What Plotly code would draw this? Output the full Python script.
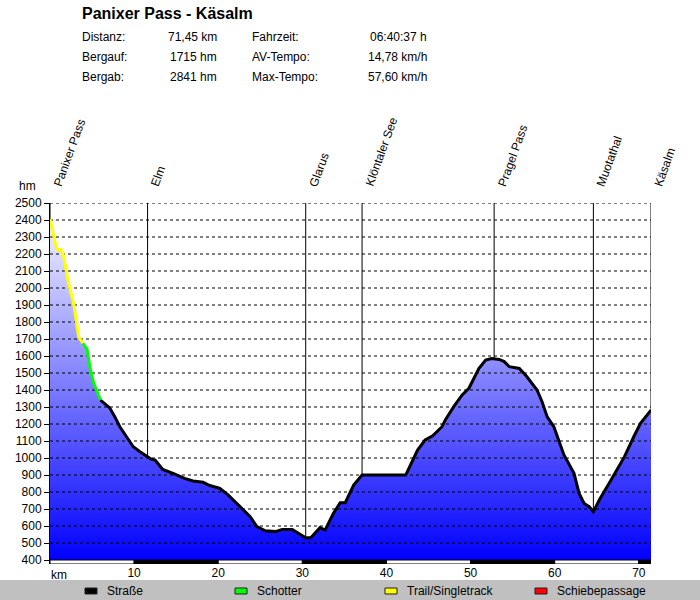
import plotly.graph_objects as go

# ---------------- data ----------------
title = "Panixer Pass - Käsalm"
stat_labels_left = ["Distanz:", "Bergauf:", "Bergab:"]
stat_values_left = ["71,45 km", "1715 hm", "2841 hm"]
stat_labels_right = ["Fahrzeit:", "AV-Tempo:", "Max-Tempo:"]
stat_values_right = ["06:40:37 h", "14,78 km/h", "57,60 km/h"]

waypoint_names = ["Panixer Pass", "Elm", "Glarus", "Klöntaler See", "Pragel Pass", "Muotathal", "Käsalm"]
waypoint_km = [0.0, 11.6, 30.4, 37.1, 52.8, 64.6, 71.45]

dist_km = [0.0, 0.4, 0.8, 1.3, 1.6, 2.2, 2.8, 3.4, 3.9, 4.4, 4.8, 5.2, 6.0,
           7.1, 7.7, 8.3, 9.1, 9.9, 10.7, 11.5, 12.0, 12.5, 13.4, 14.7, 16.0,
           17.0, 18.2, 19.0, 20.2, 21.2, 22.6, 23.8, 24.6, 25.6, 26.8, 27.6,
           28.8, 29.6, 30.4, 31.0, 32.1, 32.7, 33.7, 34.5, 35.1, 36.1, 37.1,
           42.3, 43.7, 44.6, 45.5, 46.6, 47.0, 48.0, 49.0, 49.8, 51.0, 51.8,
           52.5, 53.4, 54.0, 54.6, 55.8, 56.7, 57.9, 58.5, 59.1, 59.9, 61.1,
           62.3, 62.9, 63.5, 64.1, 64.6, 65.3, 66.7, 68.3, 69.4, 70.2, 71.45]
elev_m = [2406, 2322, 2226, 2226, 2190, 2028, 1910, 1713, 1675, 1640, 1518, 1440, 1341,
          1295, 1243, 1184, 1125, 1066, 1037, 1008, 994, 988, 933, 908, 880,
          865, 857, 838, 822, 782, 714, 655, 596, 572, 567, 580,
          580, 557, 531, 531, 590, 576, 675, 737, 737, 841, 900,
          900, 1047, 1106, 1130, 1184, 1224, 1302, 1371, 1410, 1527, 1576,
          1585, 1580, 1567, 1537, 1527, 1478, 1400, 1331, 1243, 1184, 1018,
          910, 792, 733, 714, 684, 753, 871, 1008, 1125, 1204, 1282]

surface_names = ["Straße", "Schotter", "Trail/Singletrack", "Schiebepassage"]
surface_colors = ["#000000", "#00ff00", "#ffff00", "#ff0000"]
surface_from_km = [6.0, 3.9, 0.0, None]
surface_to_km = [71.45, 6.0, 3.9, None]

y_ticks = list(range(400, 2501, 100))
x_ticks = [10, 20, 30, 40, 50, 60, 70]
strip_km = [0, 10, 20, 30, 40, 50, 60, 70, 71.45]

# ---------------- layout helpers ----------------
W, H = 700, 600
ML, MR, MT, MB = 50, 49, 203, 36
PW, PH = W - ML - MR, H - MT - MB
Y_MIN, Y_MAX = 376.5, 2500
X_MAX = dist_km[-1]
FONT = "Liberation Sans, Arial, sans-serif"


def px(x):
    return (x - ML) / PW


def py(y):
    return (H - MB - y) / PH


fig = go.Figure()

# filled profile with vertical gradient
fig.add_trace(go.Scatter(
    x=dist_km, y=elev_m, mode="lines", line=dict(width=0, color="rgba(0,0,0,0)"),
    fill="tozeroy",
    fillgradient=dict(type="vertical", colorscale=[[0, "#0000ff"], [1, "#ffffff"]],
                      start=400, stop=2500),
    hoverinfo="skip", showlegend=False))

# dashed grid lines (over fill, under profile line)
gx, gy = [], []
for t in y_ticks[1:]:
    gx += [0, X_MAX, None]
    gy += [t, t, None]
fig.add_trace(go.Scatter(x=gx, y=gy, mode="lines",
                         line=dict(color="black", width=1, dash="3px,3px"),
                         hoverinfo="skip", showlegend=False))

# profile line coloured by surface
for name, col, a, b in zip(surface_names, surface_colors, surface_from_km, surface_to_km):
    if a is None:
        continue
    xs = [d for d in dist_km if a <= d <= b]
    ys = [e for d, e in zip(dist_km, elev_m) if a <= d <= b]
    fig.add_trace(go.Scatter(x=xs, y=ys, mode="lines",
                             line=dict(color=col, width=3),
                             hoverinfo="skip", showlegend=False, name=name))

shapes = []
annotations = []

# waypoint vertical lines (behind the fill) and rotated labels
for name, k in zip(waypoint_names, waypoint_km):
    shapes.append(dict(type="line", xref="x", yref="y", x0=k, x1=k, y0=Y_MIN, y1=2500,
                       line=dict(color="black", width=1), layer="below"))
    annotations.append(dict(x=k, y=2500, xref="x", yref="y", text=name, showarrow=False,
                            textangle=-70, xanchor="left", yanchor="bottom", yshift=12,
                            xshift=-2, font=dict(family=FONT, size=12, color="black")))

# distance strip along the bottom
for i in range(len(strip_km) - 1):
    shapes.append(dict(type="rect", xref="x", yref="y", x0=strip_km[i], x1=strip_km[i + 1],
                       y0=Y_MIN, y1=400, fillcolor="white" if i % 2 == 0 else "black",
                       line=dict(color="black", width=1), layer="above"))

# header
annotations.append(dict(x=px(80), y=py(14), xref="paper", yref="paper", text="<b>" + title + "</b>",
                        showarrow=False, xanchor="left", yanchor="middle",
                        font=dict(family=FONT, size=16, color="black")))
row_y = [37, 57, 77]
for i in range(3):
    for txt, x, anc in [(stat_labels_left[i], 80, "left"), (stat_values_left[i], 219, "right"),
                        (stat_labels_right[i], 250, "left"), (stat_values_right[i], 429, "right")]:
        annotations.append(dict(x=px(x), y=py(row_y[i]), xref="paper", yref="paper", text=txt,
                                showarrow=False, xanchor=anc, yanchor="middle",
                                font=dict(family=FONT, size=12, color="black")))

# axis unit labels
annotations.append(dict(x=px(27), y=py(186), xref="paper", yref="paper", text="hm", showarrow=False,
                        xanchor="center", yanchor="middle", font=dict(family=FONT, size=12, color="black")))
annotations.append(dict(x=px(49), y=py(575), xref="paper", yref="paper", text="km", showarrow=False,
                        xanchor="left", yanchor="middle", font=dict(family=FONT, size=12, color="black")))

# legend band
shapes.append(dict(type="rect", xref="paper", yref="paper", x0=px(0), x1=px(W), y0=py(600), y1=py(580),
                   fillcolor="#c0c0c0", line=dict(width=0), layer="above"))
for i, (name, col) in enumerate(zip(surface_names, surface_colors)):
    x0 = 85 + 150 * i
    shapes.append(dict(type="rect", xref="paper", yref="paper", x0=px(x0), x1=px(x0 + 12),
                       y0=py(594), y1=py(588), fillcolor=col, line=dict(color="#202020", width=1),
                       layer="above"))
    annotations.append(dict(x=px(x0 + 20), y=py(590.5), xref="paper", yref="paper", text=name,
                            showarrow=False, xanchor="left", yanchor="middle",
                            font=dict(family=FONT, size=12, color="black")))

fig.update_layout(
    width=W, height=H, margin=dict(l=ML, r=MR, t=MT, b=MB, pad=0),
    paper_bgcolor="white", plot_bgcolor="white",
    font=dict(family=FONT, size=12, color="black"),
    shapes=shapes, annotations=annotations, showlegend=False,
    xaxis=dict(range=[0, X_MAX], showgrid=False, zeroline=False, showline=False,
               tickvals=x_ticks, ticks="", tickfont=dict(family=FONT, size=12, color="black"),
               fixedrange=True),
    yaxis=dict(range=[Y_MIN, Y_MAX], showgrid=False, zeroline=False, showline=True,
               linecolor="black", linewidth=1, tickvals=y_ticks, ticks="outside", ticklen=5,
               tickcolor="black", tickfont=dict(family=FONT, size=12, color="black"),
               fixedrange=True),
)

fig.write_html("out.html", config={"displayModeBar": False},
               post_script="document.body.style.margin='0';document.body.style.overflow='hidden';")
